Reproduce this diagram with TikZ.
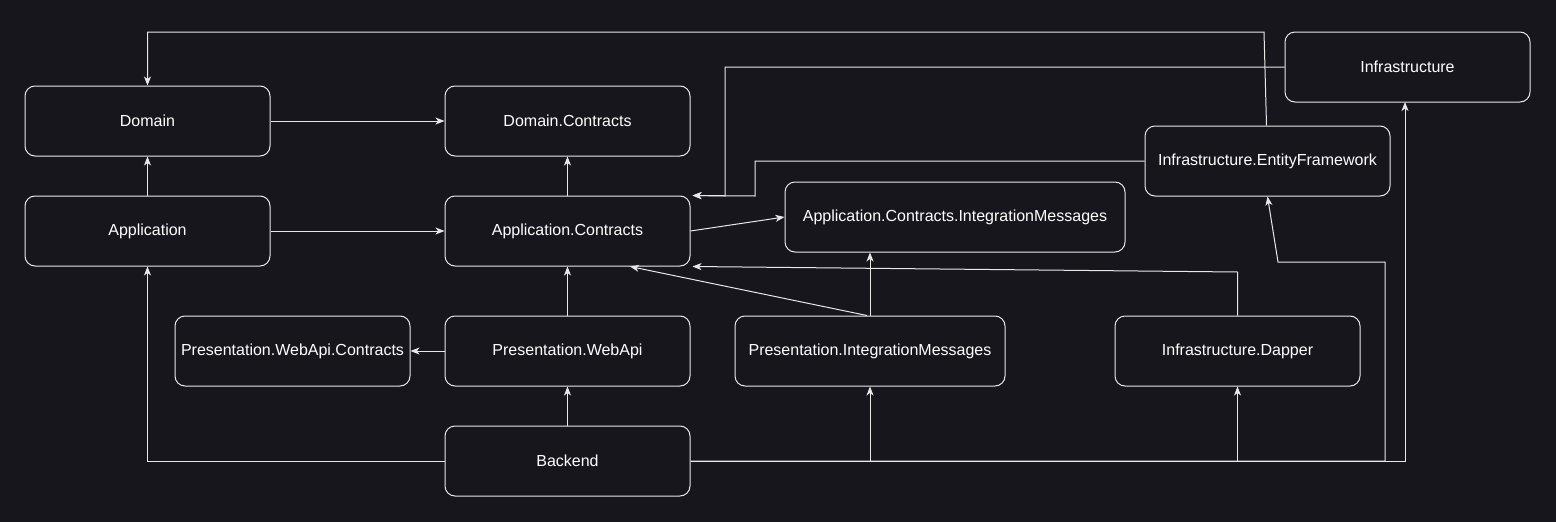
\documentclass[tikz,border=0pt]{standalone}
\usepackage{fontspec}
\setmainfont{Liberation Sans}
\usetikzlibrary{arrows.meta}
\definecolor{bg}{HTML}{18161D}
\definecolor{ln}{HTML}{E8E8E8}
\begin{document}
\begin{tikzpicture}[x=1pt,y=-1pt,
  box/.style={draw=ln, line width=1pt, rounded corners=10pt, fill=bg, text=white,
    font=\fontsize{16}{19}\selectfont, inner sep=0pt, minimum height=70pt},
  arr/.style={draw=ln, line width=1pt, -{Stealth[length=9pt,width=7pt,inset=2.5pt]}}]
\fill[bg] (0,0) rectangle (1556,522);
\useasboundingbox (0,0) rectangle (1556,522);

\node[box, minimum width=245pt] (dom)   at (147.5,121)  {Domain};
\node[box, minimum width=245pt] (domc)  at (567.5,121)  {Domain.Contracts};
\node[box, minimum width=245pt] (app)   at (147.5,231)  {Application};
\node[box, minimum width=245pt] (appc)  at (567.5,231)  {Application.Contracts};
\node[box, minimum width=340pt] (appim) at (955,217)    {Application.Contracts.IntegrationMessages};
\node[box, minimum width=245pt] (inf)   at (1407.5,67)  {Infrastructure};
\node[box, minimum width=245pt] (ef)    at (1267.5,161) {Infrastructure.EntityFramework};
\node[box, minimum width=235pt] (pwc)   at (292.5,351)  {Presentation.WebApi.Contracts};
\node[box, minimum width=245pt] (pw)    at (567.5,351)  {Presentation.WebApi};
\node[box, minimum width=270pt] (pim)   at (870,351)    {Presentation.IntegrationMessages};
\node[box, minimum width=245pt] (dap)   at (1237.5,351) {Infrastructure.Dapper};
\node[box, minimum width=245pt] (be)    at (567.5,461)  {Backend};

\coordinate (dapk) at (1237.5,272);
\coordinate (efk)  at (755,196);
\coordinate (infk) at (725,196);
\coordinate (topk) at (1264,32);
\coordinate (efk3) at (1385,262);
\coordinate (efk4) at (1278,262);
\coordinate (infb) at (1405,102);

\draw[arr] (dom) -- (domc);
\draw[arr] (app) -- (dom);
\draw[arr] (app) -- (appc);
\draw[arr] (appc) -- (domc);
\draw[arr] (appc.east) -- (appim.west);
\draw[arr] (pw) -- (appc);
\draw[arr] (pw) -- (pwc);
\draw[arr] (be) -- (pw);
\draw[arr] (be.west) -| (app.south);
\draw[arr] ([xshift=-3pt]pim.north) -- ([xshift=62.5pt]appc.south);
\draw[arr] (pim.north) -- (pim.north |- appim.south);
\draw[arr] (dap.north) -- (dapk) -- ([xshift=2pt]appc.south east);
\draw[arr] (ef.west) -| (efk) -- ([xshift=2pt]appc.north east);
\draw[arr] (inf.west) -| (infk) -- ([xshift=2pt]appc.north east);
\draw[arr] ([xshift=-1pt]ef.north) -- (topk) -| (dom.north);
\draw[arr] (be.east) -| (pim.south);
\draw[arr] (be.east) -| (dap.south);
\draw[arr] (be.east) -| (efk3) -- (efk4) -- (ef.south);
\draw[arr] (be.east) -| (infb);
\end{tikzpicture}
\end{document}
